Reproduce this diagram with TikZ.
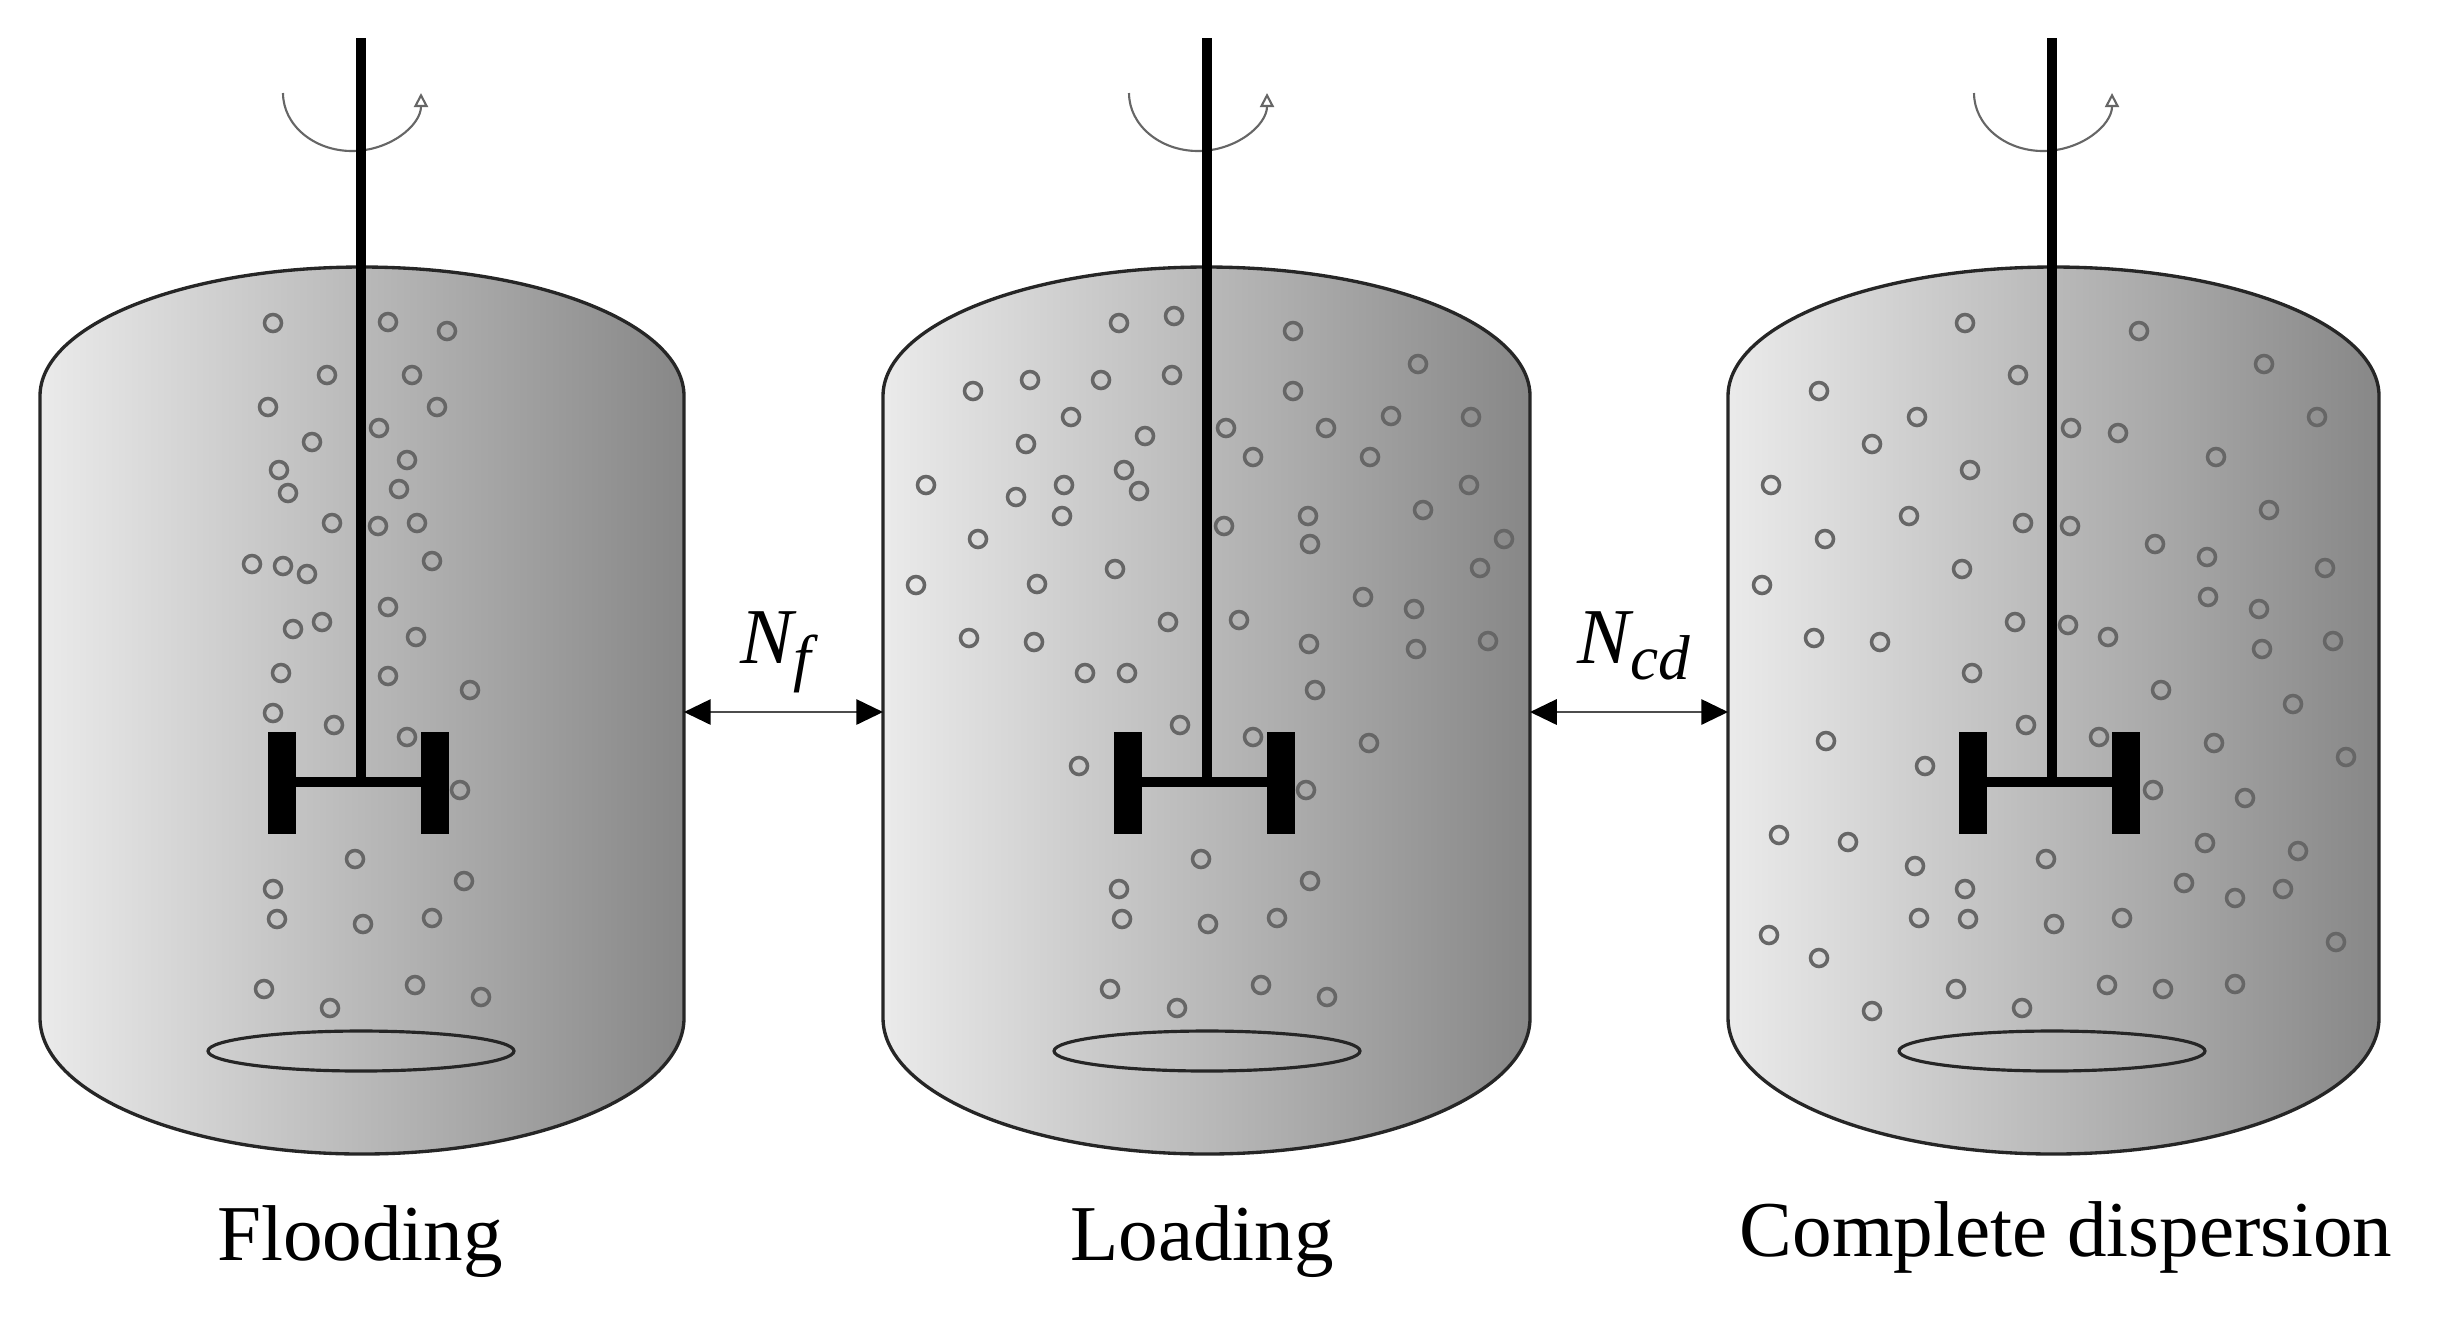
\documentclass[tikz,border=0pt]{standalone}
\usepackage{amsmath}
\usepackage{fontspec}
\setmainfont{Liberation Serif}
\usetikzlibrary{arrows, arrows.meta}
\usetikzlibrary{calc}
\definecolor{bubblegray}{HTML}{666666}
\definecolor{wallgray}{HTML}{262626}
\newcommand{\speedsub}[1]{\raisebox{-0.21em}{\fontsize{18}{21}\selectfont #1}}
\tikzset{
  vessel/.style={draw=wallgray, line width=0.95pt, left color=black!8, right color=black!47},
  bubble/.style={draw=bubblegray, line width=1pt},
  shaft/.style={line width=3.1pt, black},
  sparger/.style={draw=wallgray, line width=0.9pt},
  spin/.style={draw=bubblegray, line width=0.6pt, -{Triangle[open, length=4pt, width=4pt]}},
  link/.style={draw=black!70, line width=0.6pt, {Triangle[length=7.6pt, width=7.2pt, black]}-{Triangle[length=7.6pt, width=7.2pt, black]}},
  caption/.style={anchor=base, font=\fontsize{22.5}{27}\selectfont, inner sep=0pt},
  speed/.style={anchor=base west, font=\fontsize{22.5}{27}\selectfont\itshape, inner sep=0pt}
}

\begin{document}
\begin{tikzpicture}[x=0.01cm, y=-0.01cm]
      \useasboundingbox (0, 0) rectangle (2437, 1320);

      % the three vessels: name / left wall / right wall
      \foreach \name/\lx/\rx in {flood/40/684, load/883/1530, disp/1728/2379} {
        \pgfmathsetmacro{\hw}{(\rx-\lx)/2}
        \draw[vessel] (\lx, 396) arc[start angle=180, end angle=360, x radius=\hw, y radius=129]
          -- (\rx, 1018) arc[start angle=0, end angle=180, x radius=\hw, y radius=136] -- cycle;
        \coordinate (\name L) at (\lx, 712);
        \coordinate (\name R) at (\rx, 712);
      }

      % bubbles
      \foreach \x/\y in {273/323, 388/322, 447/331, 327/375, 412/375, 268/407, 437/407, 379/428, 312/442, 407/460,
        279/470, 288/493, 399/489, 332/523, 378/526, 417/523, 252/564, 283/566, 307/574, 432/561, 388/607, 322/622,
        293/629, 416/637, 281/673, 388/676, 470/690, 273/713, 334/725, 407/737, 460/790, 355/859, 273/889, 464/881,
        277/919, 363/924, 432/918, 264/989, 415/985, 330/1008, 481/997}
        \draw[bubble] (\x, \y) circle[radius=8.5];
      \foreach \x/\y in {1119/323, 1174/316, 1293/331, 1418/364, 973/391, 1030/380, 1101/380, 1172/375, 1293/391,
        1071/417, 1226/428, 1326/428, 1391/416, 1471/417, 1026/444, 1145/436, 1253/457, 1370/457, 926/485, 1064/485,
        1124/470, 1139/491, 1469/485, 1016/497, 1423/510, 1062/516, 1308/516, 1224/526, 1310/544, 1504/539, 978/539,
        1480/568, 1115/569, 916/585, 1037/584, 1363/597, 1414/609, 1168/622, 1239/620, 969/638, 1034/642, 1309/644,
        1416/649, 1488/641, 1085/673, 1127/673, 1315/690, 1180/725, 1253/737, 1369/743, 1079/766, 1306/790, 1201/859,
        1119/889, 1310/881, 1122/919, 1208/924, 1277/918, 1110/989, 1261/985, 1177/1008, 1327/997}
        \draw[bubble] (\x, \y) circle[radius=8.5];
      \foreach \x/\y in {1965/323, 2139/331, 2264/364, 2018/375, 1819/391, 1917/417, 2071/428, 2118/433, 2317/417,
        1872/444, 2216/457, 1970/470, 1771/485, 2269/510, 1909/516, 2023/523, 2070/526, 2155/544, 2207/557, 1825/539,
        1962/569, 2325/568, 1762/585, 2208/597, 2259/609, 2015/622, 2068/625, 2108/637, 1814/638, 1880/642, 2262/649,
        2333/641, 1972/673, 2161/690, 2293/704, 2026/725, 2099/737, 1826/741, 2214/743, 1925/766, 2346/757, 2153/790,
        2245/798, 1779/835, 1848/842, 2205/843, 2298/851, 1915/866, 2046/859, 1965/889, 2184/883, 2235/898, 2283/889,
        1919/918, 1968/919, 2054/924, 2122/918, 1769/935, 1819/958, 2336/942, 1956/989, 2107/985, 2163/989, 2235/984,
        1872/1011, 2022/1008}
        \draw[bubble] (\x, \y) circle[radius=8.5];

      % stirrer of each vessel
      \foreach \cx in {361, 1207, 2052} {
        \draw[spin] ($(\cx, 93) + (-78, 0)$) arc[start angle=180, end angle=0, x radius=69, y radius=58];
        \draw[shaft] (\cx, 38) -- (\cx, 782);
        \draw[line width=2.9pt] ($(\cx, 782) + (-65, 0)$) -- ($(\cx, 782) + (60, 0)$);
        \fill ($(\cx, 732) + (-93, 0)$) rectangle ($(\cx, 834) + (-65, 0)$);
        \fill ($(\cx, 732) + (60, 0)$) rectangle ($(\cx, 834) + (88, 0)$);
        \draw[sparger] (\cx, 1051) ellipse[x radius=153, y radius=20];
      }

      \draw[link] (floodR) -- (loadL);
      \draw[link] (loadR) -- (dispL);

      \node[speed] (nf) at (740, 663) {N\speedsub{f}};
      \node[speed] (ncd) at (1577, 663) {N\speedsub{cd}};

      \node[caption] (flooding) at (360, 1260) {Flooding};
      \node[caption] (loading) at (1202, 1260) {Loading};
      \node[caption] (complete) at (2066, 1256) {Complete dispersion};
    \end{tikzpicture}
\end{document}
